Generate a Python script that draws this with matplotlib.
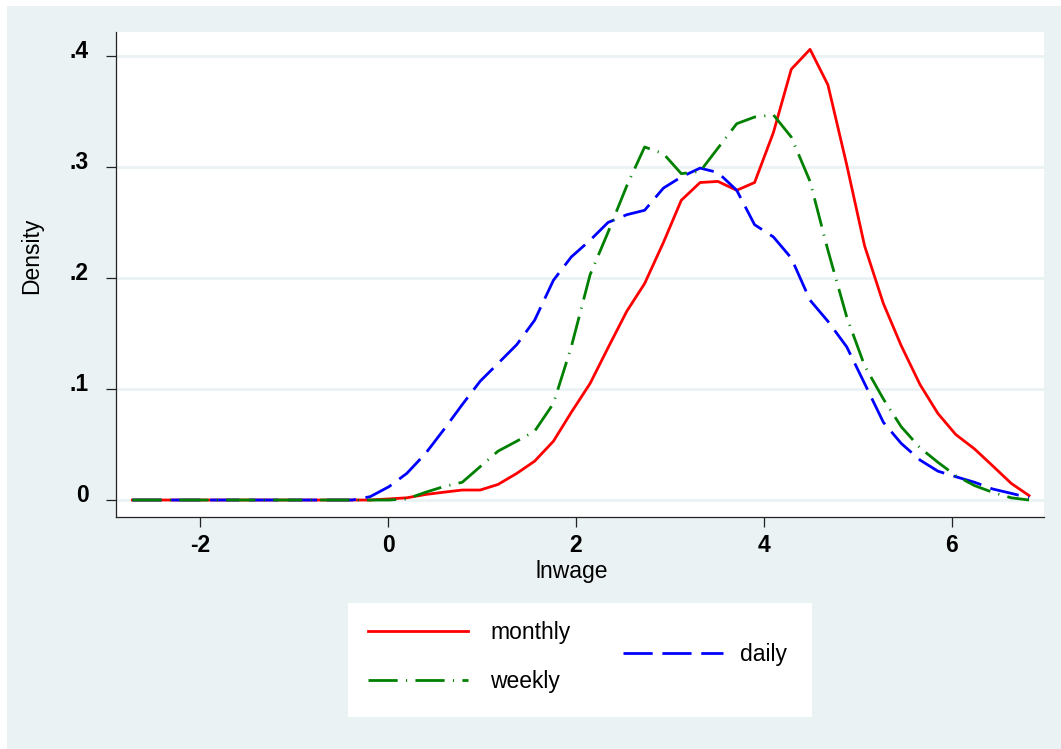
import matplotlib
matplotlib.use("Agg")
import matplotlib.pyplot as plt
from matplotlib.patches import Rectangle
from matplotlib.transforms import ScaledTranslation

plt.rcParams['font.family'] = ['Liberation Sans', 'DejaVu Sans']
plt.rcParams['font.size'] = 16.5
plt.rcParams['axes.unicode_minus'] = False

# punti di valutazione della densita' (lnwage)
lnwage = [-2.72, -2.53, -2.33, -2.14, -1.94, -1.75, -1.55, -1.36, -1.16, -0.97,
          -0.77, -0.58, -0.38, -0.19, 0.01, 0.20, 0.40, 0.59, 0.79, 0.98,
          1.17, 1.37, 1.56, 1.76, 1.95, 2.15, 2.34, 2.54, 2.73, 2.93,
          3.12, 3.32, 3.51, 3.71, 3.90, 4.10, 4.29, 4.49, 4.68, 4.88,
          5.07, 5.27, 5.46, 5.66, 5.85, 6.04, 6.24, 6.43, 6.63, 6.82]

monthly = [0, 0, 0, 0, 0, 0, 0, 0, 0, 0,
           0, 0, 0, 0, 0.001, 0.002, 0.005, 0.007, 0.009, 0.009,
           0.014, 0.024, 0.035, 0.053, 0.079, 0.105, 0.137, 0.170, 0.195, 0.232,
           0.270, 0.286, 0.287, 0.279, 0.286, 0.331, 0.388, 0.406, 0.374, 0.302,
           0.229, 0.177, 0.139, 0.104, 0.078, 0.059, 0.046, 0.031, 0.015, 0.004]

weekly = [0, 0, 0, 0, 0, 0, 0, 0, 0, 0,
          0, 0, 0, 0, 0.000, 0.001, 0.007, 0.012, 0.016, 0.030,
          0.044, 0.053, 0.062, 0.087, 0.138, 0.203, 0.241, 0.283, 0.318, 0.312,
          0.294, 0.296, 0.317, 0.339, 0.345, 0.347, 0.327, 0.287, 0.225, 0.165,
          0.121, 0.091, 0.066, 0.047, 0.034, 0.022, 0.013, 0.007, 0.002, 0.000]

daily = [0, 0, 0, 0, 0, 0, 0, 0, 0, 0,
         0, 0, 0, 0.003, 0.012, 0.024, 0.042, 0.063, 0.086, 0.107,
         0.123, 0.140, 0.162, 0.198, 0.219, 0.234, 0.250, 0.257, 0.261, 0.281,
         0.291, 0.299, 0.295, 0.279, 0.248, 0.237, 0.218, 0.180, 0.161, 0.138,
         0.105, 0.070, 0.051, 0.036, 0.026, 0.021, 0.016, 0.010, 0.006, 0.002]

xticks = [-2, 0, 2, 4, 6]
yticks = [0, 0.1, 0.2, 0.3, 0.4]
ytick_labels = ["0", ".1", ".2", ".3", ".4"]

sfondo = "#EAF2F3"

fig = plt.figure(figsize=(10.61, 7.49), dpi=100, facecolor="white")
fig.patches.append(Rectangle((7 / 1061, 0), 1, 743 / 749, transform=fig.transFigure,
                             facecolor=sfondo, edgecolor="none", zorder=-10))

ax = fig.add_axes([116 / 1061, 232 / 749, 928 / 1061, 485 / 749])
ax.set_facecolor("white")

l_m, = ax.plot(lnwage, monthly, color="red", lw=2.0, label="monthly", zorder=3)
l_d, = ax.plot(lnwage, daily, color="blue", lw=2.0, dashes=(10.5, 3.5), label="daily", zorder=4)
l_w, = ax.plot(lnwage, weekly, color="green", lw=2.0, dashes=(10.5, 3, 0.4, 3), label="weekly", zorder=5)

ax.set_xlim(-2.894, 6.979)
ax.set_ylim(-0.0153, 0.4216)
ax.set_xticks(xticks)
ax.set_yticks(yticks)
ax.set_yticklabels(ytick_labels)

ax.yaxis.grid(True, color=sfondo, lw=2.0, zorder=0)
ax.set_axisbelow(True)
for s in ["top", "right"]:
    ax.spines[s].set_visible(False)
for s in ["left", "bottom"]:
    ax.spines[s].set_color("#222222")
    ax.spines[s].set_linewidth(0.9)

ax.tick_params(axis="both", direction="out", length=7.5, width=0.9, color="#222222")
ax.tick_params(axis="x", pad=5)
ax.tick_params(axis="y", pad=12)
for lab in ax.get_xticklabels() + ax.get_yticklabels():
    lab.set_fontweight("bold")
for lab in ax.get_yticklabels():
    lab.set_transform(lab.get_transform() + ScaledTranslation(0, 7 / 100, fig.dpi_scale_trans))

ax.set_xlabel("lnwage")
ax.set_ylabel("Density")
ax.xaxis.set_label_coords(0.4914, -0.1134)
ax.xaxis.label.set_va("center")
ax.yaxis.set_label_coords(-0.091, 0.538)
ax.yaxis.label.set_va("center")

# riquadro della legenda
ax_leg = fig.add_axes([348 / 1061, 32 / 749, 464 / 1061, 114 / 749])
ax_leg.set_facecolor("white")
ax_leg.set_xticks([])
ax_leg.set_yticks([])
for s in ax_leg.spines.values():
    s.set_visible(False)

leg1 = ax_leg.legend(handles=[l_m, l_w], loc="center left", bbox_to_anchor=(0.043, 0.526),
                     frameon=False, borderpad=0, borderaxespad=0, handlelength=4.37,
                     handletextpad=0.96, labelspacing=1.15)
ax_leg.add_artist(leg1)
ax_leg.legend(handles=[l_d], loc="center left", bbox_to_anchor=(0.593, 0.544),
              frameon=False, borderpad=0, borderaxespad=0, handlelength=4.37,
              handletextpad=0.74)

fig.savefig("out.png", dpi=100, facecolor=fig.get_facecolor())
